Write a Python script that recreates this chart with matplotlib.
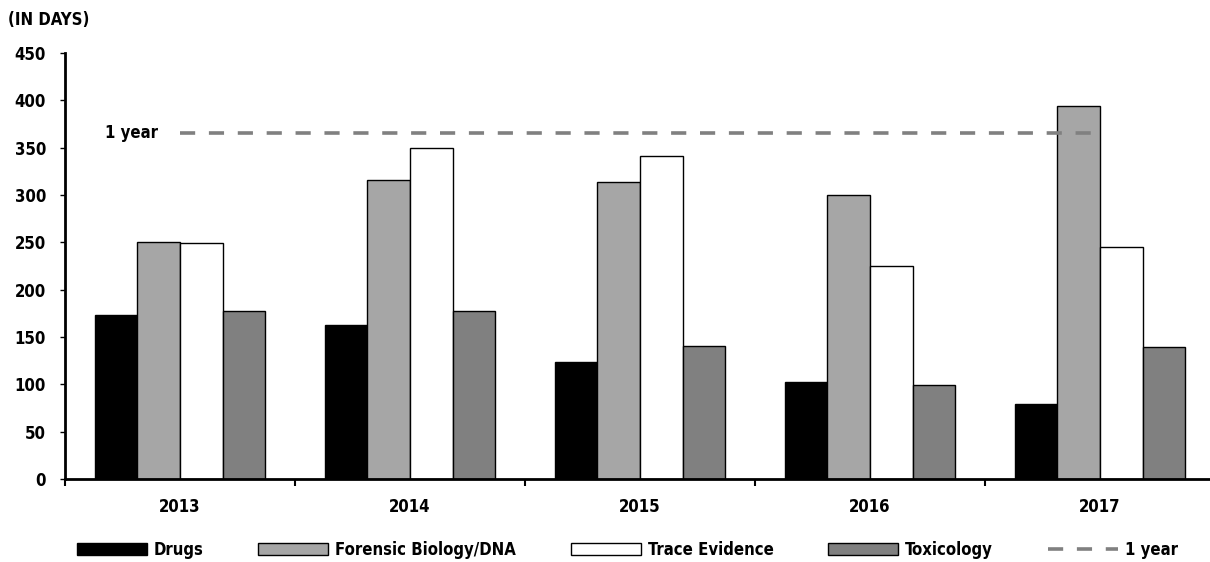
import matplotlib
matplotlib.use('Agg')
from matplotlib import pyplot as plt
import numpy as np

plt.rcParams['font.family'] = ['DejaVu Sans']
plt.rcParams['font.stretch'] = 'condensed'
plt.rcParams['font.weight'] = 'bold'
plt.rcParams['font.size'] = 12

years = ['2013', '2014', '2015', '2016', '2017']
drugs = [173, 163, 124, 102, 79]
dna = [250, 316, 314, 300, 394]
trace = [249, 350, 341, 225, 245]
tox = [177, 177, 140, 99, 139]
one_year = 365

series = [('Drugs', drugs, 'black'),
          ('Forensic Biology/DNA', dna, '#a6a6a6'),
          ('Trace Evidence', trace, 'white'),
          ('Toxicology', tox, '#808080')]

fig = plt.figure(figsize=(12.1, 5.62), dpi=100)
ax = fig.add_axes([0.0537, 0.1477, 0.9463, 0.758])

x = np.arange(len(years))
w = 0.185
for i, (name, vals, col) in enumerate(series):
    ax.bar(x + (i - 1.5) * w, vals, w, color=col, edgecolor='black',
           linewidth=1, label=name)

ax.plot([0, 3.96], [one_year, one_year], color='#808080', lw=2.6,
        dashes=(4.2, 3.8), label='1 year')
ax.text(-0.095, one_year, '1 year', ha='right', va='center', fontsize=12)

ax.set_xlim(-0.5, 4.478)
ax.set_ylim(0, 450)
ax.set_yticks(range(0, 451, 50))
ax.set_xticks(x)
ax.set_xticklabels(years)
ax.set_xticks(np.arange(-0.5, 4.0, 1.0), minor=True)
ax.tick_params(axis='x', which='major', length=0, pad=14)
ax.tick_params(axis='x', which='minor', length=5, width=1.5, direction='out')
ax.tick_params(axis='y', length=3.6, width=1, pad=10)
for s in ['top', 'right']:
    ax.spines[s].set_visible(False)
ax.spines['left'].set_linewidth(2)
ax.spines['bottom'].set_linewidth(2)

fig.text(0.007, 0.965, '(IN DAYS)', ha='left', va='center', fontsize=12)

handles, labels = ax.get_legend_handles_labels()
order = [1, 2, 3, 4, 0]
ax.legend([handles[k] for k in order], [labels[k] for k in order],
          loc='upper center', bbox_to_anchor=(0.491, -0.11), ncol=5,
          frameon=False, handlelength=4.2, handleheight=0.7,
          handletextpad=0.4, columnspacing=3.3, fontsize=12)

fig.savefig('out.png', dpi=100)
